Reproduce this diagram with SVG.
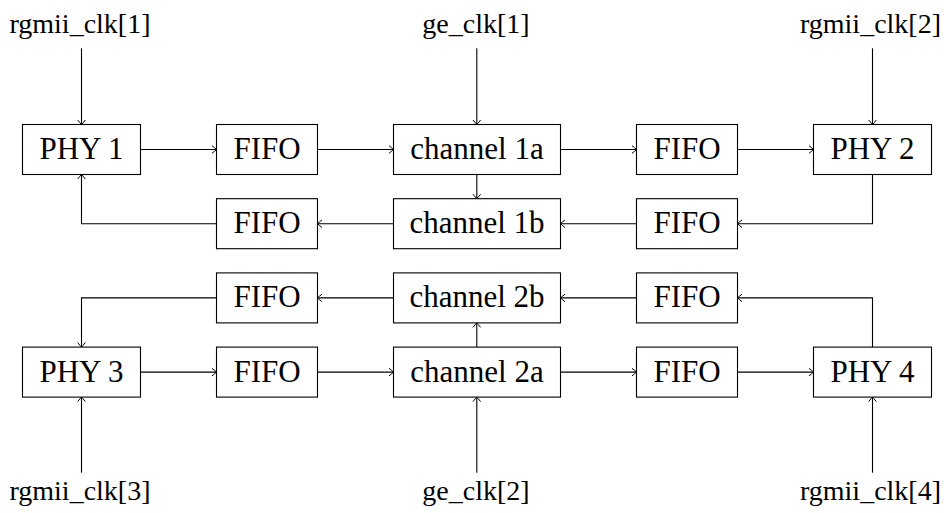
<svg xmlns="http://www.w3.org/2000/svg" width="944" height="513" viewBox="0 0 944 513">
<style>
.box{fill:#fff;stroke:#000;stroke-width:1.1}
.t{font-family:'Liberation Serif','DejaVu Serif',serif;font-size:31px;fill:#000;text-anchor:middle}
.lbl{font-family:'Liberation Serif','DejaVu Serif',serif;font-size:28px;fill:#000;text-anchor:middle}
.c{fill:none;stroke:#000;stroke-width:1.1;marker-end:url(#arr)}
</style>
<defs>
<marker id="arr" markerUnits="userSpaceOnUse" markerWidth="12" markerHeight="12" viewBox="-6 -6 12 12" refX="0" refY="0" orient="auto">
<path d="M-4.5,-3.8 Q-1.2,-1.2 0,0 Q-1.2,1.2 -4.5,3.8" fill="none" stroke="#000" stroke-width="1"/>
</marker>
</defs>
<rect width="944" height="513" fill="#fff"/>
<g id="connectors">
<path class="c" d="M81.5,48.3 V124.5"/>
<path class="c" d="M476.8,48.3 V124.5"/>
<path class="c" d="M872.5,48.3 V124.5"/>
<path class="c" d="M140.5,149.5 H216.5"/>
<path class="c" d="M317.5,149.5 H393.5"/>
<path class="c" d="M560.5,149.5 H636.5"/>
<path class="c" d="M737.5,149.5 H813.5"/>
<path class="c" d="M476.8,174.5 V198.7"/>
<path class="c" d="M872.5,174.5 V223.7 H737.5"/>
<path class="c" d="M636.5,223.7 H560.5"/>
<path class="c" d="M393.5,223.7 H317.5"/>
<path class="c" d="M216.5,223.7 H81.5 V174.5"/>
<path class="c" d="M872.5,347.1 V297.9 H737.5"/>
<path class="c" d="M636.5,297.9 H560.5"/>
<path class="c" d="M393.5,297.9 H317.5"/>
<path class="c" d="M216.5,297.9 H81.5 V347.1"/>
<path class="c" d="M476.8,347.1 V322.9"/>
<path class="c" d="M140.5,372.1 H216.5"/>
<path class="c" d="M317.5,372.1 H393.5"/>
<path class="c" d="M560.5,372.1 H636.5"/>
<path class="c" d="M737.5,372.1 H813.5"/>
<path class="c" d="M81.5,472.7 V397.1"/>
<path class="c" d="M476.8,472.7 V397.1"/>
<path class="c" d="M872.5,472.7 V397.1"/>
</g>
<g id="lbl-rgmii1"><text class="lbl" font-family="Liberation Serif" x="80" y="32.5">rgmii_clk[1]</text></g>
<g id="lbl-ge1"><text class="lbl" font-family="Liberation Serif" x="476" y="32.5">ge_clk[1]</text></g>
<g id="lbl-rgmii2"><text class="lbl" font-family="Liberation Serif" x="870.5" y="32.5">rgmii_clk[2]</text></g>
<g id="lbl-rgmii3"><text class="lbl" font-family="Liberation Serif" x="80" y="499.5">rgmii_clk[3]</text></g>
<g id="lbl-ge2"><text class="lbl" font-family="Liberation Serif" x="476" y="499.5">ge_clk[2]</text></g>
<g id="lbl-rgmii4"><text class="lbl" font-family="Liberation Serif" x="870.5" y="499.5">rgmii_clk[4]</text></g>

<g id="phy1"><rect class="box" x="22.5" y="124.5" width="118" height="50"/><text class="t" font-family="Liberation Serif" x="81.5" y="159">PHY 1</text></g>
<g id="fifo1"><rect class="box" x="216.5" y="124.5" width="101" height="50"/><text class="t" font-family="Liberation Serif" x="267" y="159">FIFO</text></g>
<g id="ch1a"><rect class="box" x="393.5" y="124.5" width="167" height="50"/><text class="t" font-family="Liberation Serif" x="477" y="159">channel 1a</text></g>
<g id="fifo2"><rect class="box" x="636.5" y="124.5" width="101" height="50"/><text class="t" font-family="Liberation Serif" x="687" y="159">FIFO</text></g>
<g id="phy2"><rect class="box" x="813.5" y="124.5" width="118" height="50"/><text class="t" font-family="Liberation Serif" x="872.5" y="159">PHY 2</text></g>

<g id="fifo3"><rect class="box" x="216.5" y="198.7" width="101" height="50"/><text class="t" font-family="Liberation Serif" x="267" y="233.2">FIFO</text></g>
<g id="ch1b"><rect class="box" x="393.5" y="198.7" width="167" height="50"/><text class="t" font-family="Liberation Serif" x="477" y="233.2">channel 1b</text></g>
<g id="fifo4"><rect class="box" x="636.5" y="198.7" width="101" height="50"/><text class="t" font-family="Liberation Serif" x="687" y="233.2">FIFO</text></g>

<g id="fifo5"><rect class="box" x="216.5" y="272.9" width="101" height="50"/><text class="t" font-family="Liberation Serif" x="267" y="307.4">FIFO</text></g>
<g id="ch2b"><rect class="box" x="393.5" y="272.9" width="167" height="50"/><text class="t" font-family="Liberation Serif" x="477" y="307.4">channel 2b</text></g>
<g id="fifo6"><rect class="box" x="636.5" y="272.9" width="101" height="50"/><text class="t" font-family="Liberation Serif" x="687" y="307.4">FIFO</text></g>

<g id="phy3"><rect class="box" x="22.5" y="347.1" width="118" height="50"/><text class="t" font-family="Liberation Serif" x="81.5" y="381.6">PHY 3</text></g>
<g id="fifo7"><rect class="box" x="216.5" y="347.1" width="101" height="50"/><text class="t" font-family="Liberation Serif" x="267" y="381.6">FIFO</text></g>
<g id="ch2a"><rect class="box" x="393.5" y="347.1" width="167" height="50"/><text class="t" font-family="Liberation Serif" x="477" y="381.6">channel 2a</text></g>
<g id="fifo8"><rect class="box" x="636.5" y="347.1" width="101" height="50"/><text class="t" font-family="Liberation Serif" x="687" y="381.6">FIFO</text></g>
<g id="phy4"><rect class="box" x="813.5" y="347.1" width="118" height="50"/><text class="t" font-family="Liberation Serif" x="872.5" y="381.6">PHY 4</text></g>
</svg>
